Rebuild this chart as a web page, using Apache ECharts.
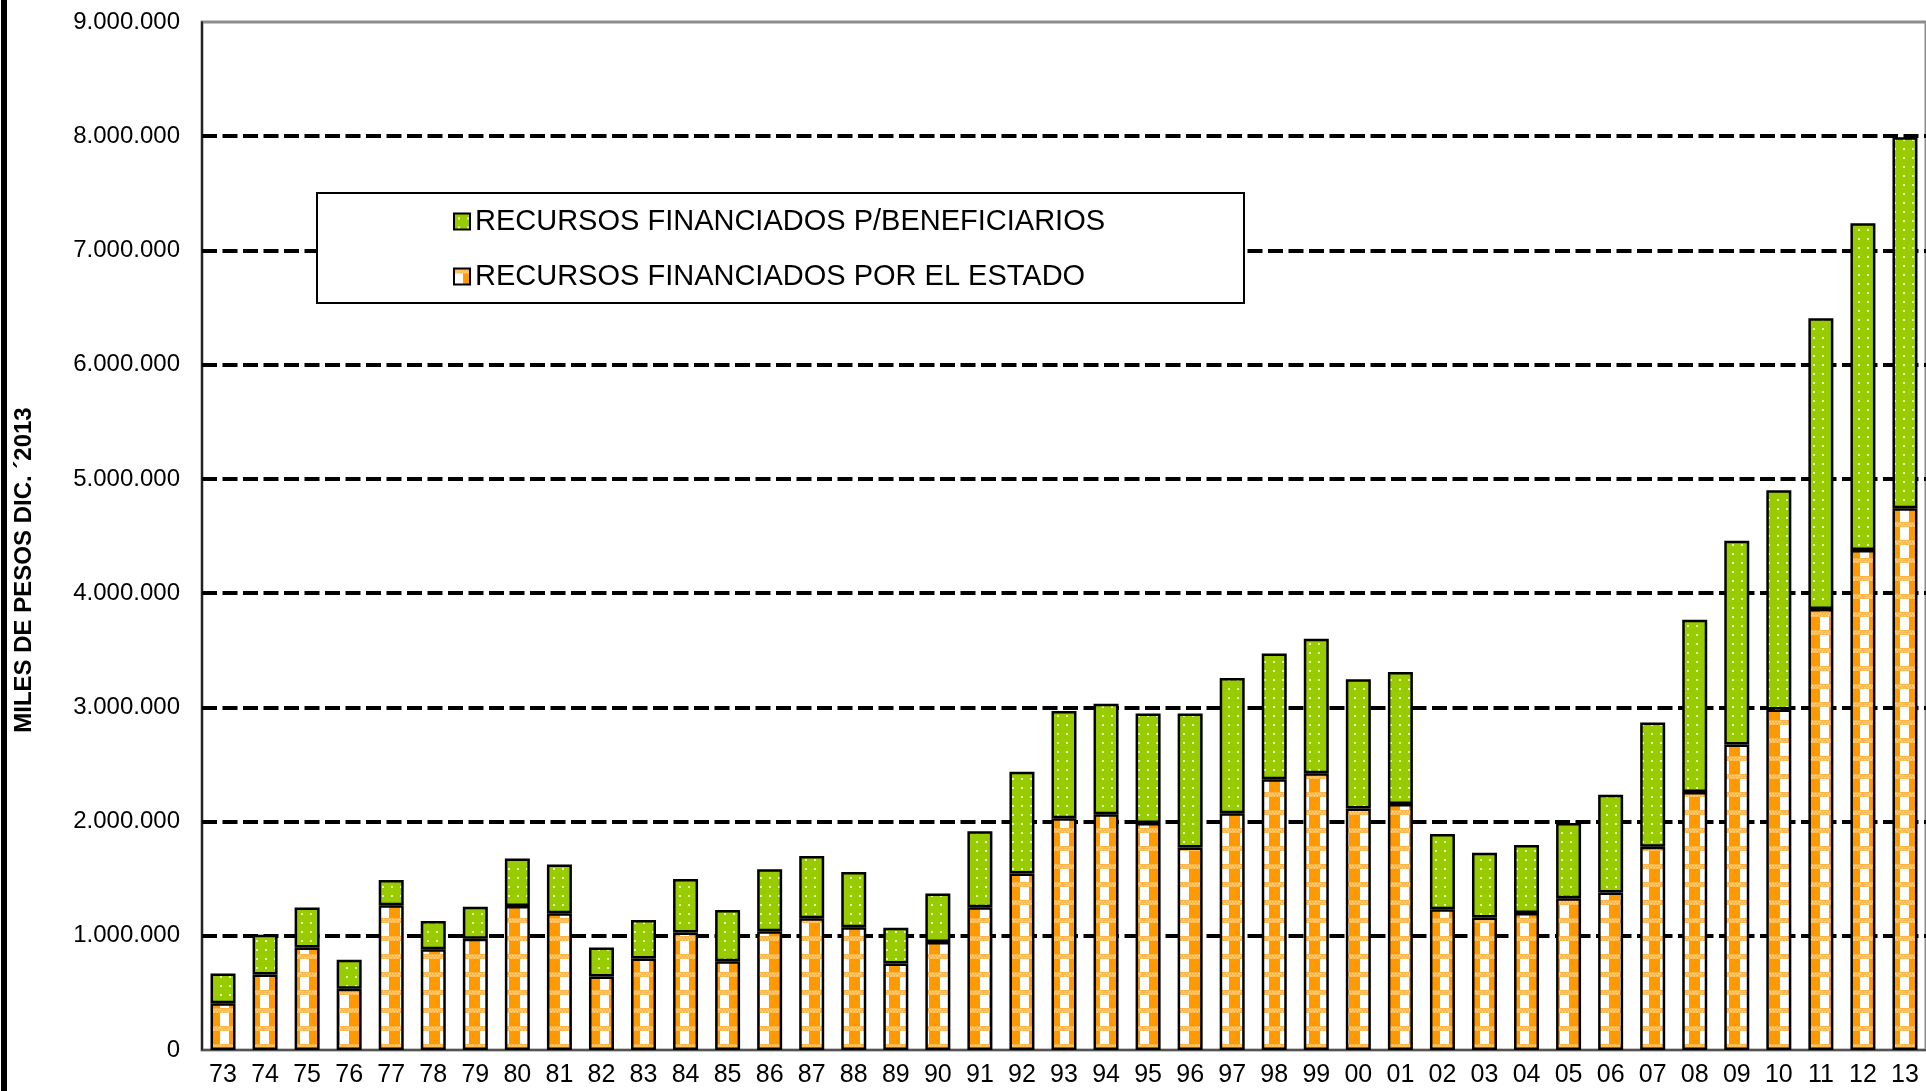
<!DOCTYPE html>
<html>
<head>
<meta charset="utf-8">
<title>Recursos financiados</title>
<script src="https://cdn.jsdelivr.net/npm/echarts@6/dist/echarts.min.js"></script>
<style>
    html, body { margin: 0; padding: 0; background: #fff; overflow: hidden; }
    #chart { width: 1926px; height: 1091px; }
</style>
</head>
<body>
<div id="chart"></div>
<script>
// años (eje x)
var years = ['73', '74', '75', '76', '77', '78', '79', '80', '81', '82', '83', '84', '85', '86',
    '87', '88', '89', '90', '91', '92', '93', '94', '95', '96', '97', '98', '99', '00', '01',
    '02', '03', '04', '05', '06', '07', '08', '09', '10', '11', '12', '13'];

// miles de pesos
var estado = [409000, 660000, 897000, 537000, 1267000, 882000, 975000, 1261000, 1197000, 643000,
    800000, 1028000, 778000, 1040000, 1153000, 1075000, 757000, 946000, 1250000, 1545000,
    2029000, 2064000, 1988000, 1772000, 2073000, 2370000, 2422000, 2115000, 2153000,
    1232000, 1159000, 1200000, 1328000, 1378000, 1779000, 2258000, 2675000, 2980000,
    3860000, 4377000, 4743000];

var beneficiarios = [260000, 350000, 350000, 253000, 222000, 248000, 280000, 415000, 426000, 254000,
    338000, 469000, 448000, 542000, 546000, 484000, 313000, 424000, 665000, 891000,
    938000, 968000, 958000, 1175000, 1183000, 1102000, 1179000, 1130000, 1157000,
    658000, 567000, 595000, 660000, 857000, 1089000, 1509000, 1783000, 1920000,
    2547000, 2862000, 3249000];

var yMax = 9000000;
var yStep = 1000000;

var FONT = '"Liberation Sans", Arial, sans-serif';

/**
 * trama verde con puntos
 */
function greenPattern() {
    var c = document.createElement('canvas');
    c.width = 9;
    c.height = 9;
    var ctx = c.getContext('2d');
    ctx.fillStyle = '#99cc00';
    ctx.fillRect(0, 0, 9, 9);
    ctx.fillStyle = '#e6f7b5';
    ctx.fillRect(4, 4, 2, 2);
    return {image: c, repeat: 'repeat'};
}

/**
 * trama naranja tipo cuadrille
 */
function orangePattern() {
    var c = document.createElement('canvas');
    c.width = 20;
    c.height = 18;
    var ctx = c.getContext('2d');
    ctx.fillStyle = '#ffffff';
    ctx.fillRect(0, 0, 20, 18);
    ctx.fillStyle = '#ff9900';
    ctx.fillRect(9, 0, 11, 18);
    // banda clara
    ctx.fillStyle = '#ffb340';
    ctx.fillRect(0, 0, 20, 5);
    ctx.fillStyle = '#ffd699';
    for (var i = 0; i < 20; i += 3) {
        ctx.fillRect(i, 1, 1.5, 1.5);
        ctx.fillRect(i + 1.5, 3, 1.5, 1.5);
    }
    return {image: c, repeat: 'repeat'};
}

var chart = echarts.init(document.getElementById('chart'));

var nameBen = 'RECURSOS FINANCIADOS P/BENEFICIARIOS';
var nameEst = 'RECURSOS FINANCIADOS POR EL ESTADO';

var legendBase = {
    orient: 'vertical',
    left: 453,
    padding: 0,
    icon: 'rect',
    itemWidth: 16,
    itemHeight: 16,
    selectedMode: false,
    z: 10,
    itemStyle: {borderColor: '#000', borderWidth: 2},
    textStyle: {fontFamily: FONT, fontSize: 29, color: '#000'}
};

chart.setOption({
    animation: false,
    backgroundColor: '#fff',
    grid: {
        left: 202,
        top: 22,
        right: -7,
        bottom: 41,
        show: true,
        borderColor: '#8c8c8c',
        borderWidth: 3
    },
    legend: [
        echarts.util.merge({data: [nameBen], top: 207}, legendBase),
        echarts.util.merge({data: [nameEst], top: 262}, legendBase)
    ],
    xAxis: {
        type: 'category',
        data: years,
        axisLine: {lineStyle: {color: '#404040', width: 1.5}},
        axisTick: {show: false},
        axisLabel: {
            margin: 13,
            interval: 0,
            color: '#000',
            fontFamily: FONT,
            fontSize: 25
        }
    },
    yAxis: {
        type: 'value',
        min: 0,
        max: yMax,
        interval: yStep,
        axisLine: {show: true, lineStyle: {color: '#000', width: 1.5}},
        axisTick: {show: false},
        axisLabel: {
            margin: 22,
            color: '#000',
            fontFamily: FONT,
            fontSize: 24,
            formatter: function (v) {
                return String(v).replace(/\B(?=(\d{3})+(?!\d))/g, '.');
            }
        },
        splitLine: {
            show: true,
            showMinLine: false,
            showMaxLine: false,
            lineStyle: {color: '#000', width: 4, type: [15, 5.5]}
        }
    },
    graphic: [
        // borde izquierdo del cuadro
        {type: 'rect', shape: {x: 1, y: 0, width: 6, height: 1091}, style: {fill: '#000'}},
        // caja de la leyenda
        {
            type: 'rect', z: 5,
            shape: {x: 317, y: 193, width: 927, height: 110},
            style: {fill: '#fff', stroke: '#000', lineWidth: 2}
        },
        {
            type: 'text', x: 24, y: 570, rotation: Math.PI / 2,
            style: {
                text: 'MILES DE PESOS DIC. \u00b42013',
                font: 'bold 24px ' + FONT,
                fill: '#000',
                align: 'center',
                verticalAlign: 'middle'
            }
        }
    ],
    series: [
        {
            name: nameEst,
            type: 'bar',
            stack: 'total',
            barWidth: 25,
            data: estado,
            itemStyle: {color: orangePattern(), borderColor: '#000', borderWidth: 2.5}
        },
        {
            name: nameBen,
            type: 'bar',
            stack: 'total',
            barWidth: 25,
            data: beneficiarios,
            itemStyle: {color: greenPattern(), borderColor: '#000', borderWidth: 2.5}
        }
    ]
});
</script>
</body>
</html>
